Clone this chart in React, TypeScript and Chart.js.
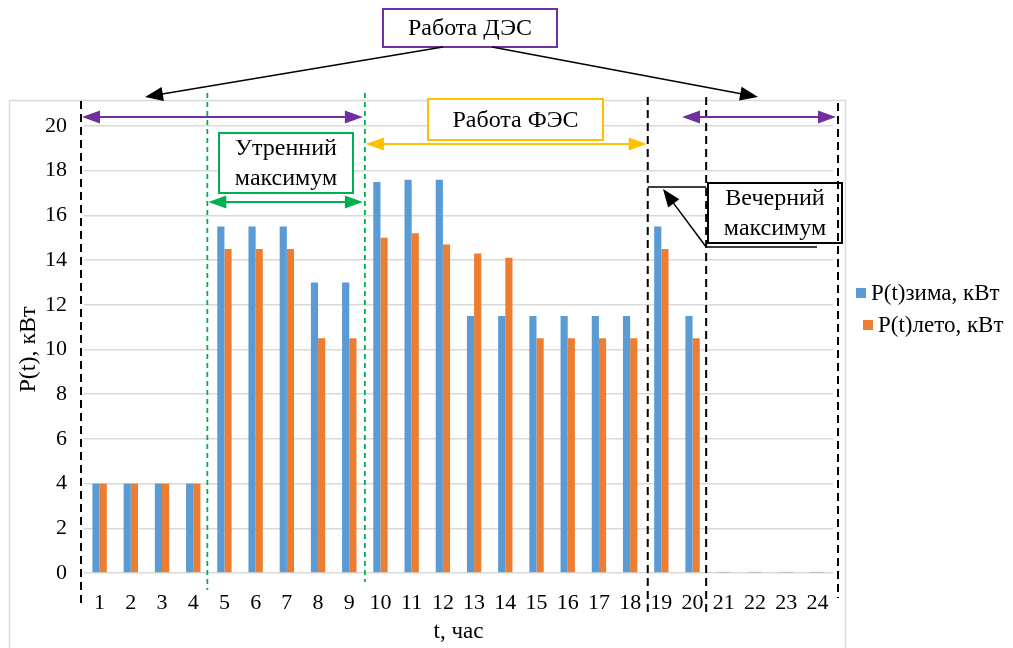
import React, { useEffect, useRef } from "react";
import { Chart, registerables } from "chart.js";

Chart.register(...registerables);

// Hours of the day
const hours = [
  "1", "2", "3", "4", "5", "6", "7", "8", "9", "10", "11", "12",
  "13", "14", "15", "16", "17", "18", "19", "20", "21", "22", "23", "24",
];

// Load, kW — winter day
const winterLoad = [
  4, 4, 4, 4, 15.5, 15.5, 15.5, 13, 13, 17.5, 17.6, 17.6,
  11.5, 11.5, 11.5, 11.5, 11.5, 11.5, 15.5, 11.5, 0.05, 0.05, 0.05, 0.05,
];

// Load, kW — summer day
const summerLoad = [
  4, 4, 4, 4, 14.5, 14.5, 14.5, 10.5, 10.5, 15, 15.2, 14.7,
  14.3, 14.1, 10.5, 10.5, 10.5, 10.5, 14.5, 10.5, 0.05, 0.05, 0.05, 0.05,
];

const seriesNames = ["P(t)зима, кВт", "P(t)лето, кВт"];
const yTicks = [0, 2, 4, 6, 8, 10, 12, 14, 16, 18, 20];

const BLUE = "#5B9BD5";
const ORANGE = "#ED7D31";
const PURPLE = "#7030A0";
const GREEN = "#00B050";
const GOLD = "#FFC000";
const GRID = "#d9d9d9";
const SERIF = "'Liberation Serif', 'Times New Roman', serif";

type Ctx = CanvasRenderingContext2D;

function head(ctx: Ctx, x1: number, y1: number, x2: number, y2: number, len: number, half: number, color: string) {
  const a = Math.atan2(y2 - y1, x2 - x1);
  const bx = x2 - len * Math.cos(a);
  const by = y2 - len * Math.sin(a);
  ctx.fillStyle = color;
  ctx.beginPath();
  ctx.moveTo(x2, y2);
  ctx.lineTo(bx + half * Math.sin(a), by - half * Math.cos(a));
  ctx.lineTo(bx - half * Math.sin(a), by + half * Math.cos(a));
  ctx.closePath();
  ctx.fill();
}

function arrow(ctx: Ctx, x1: number, y1: number, x2: number, y2: number, color: string, width: number, both: boolean, len = 18, half = 6.5) {
  const a = Math.atan2(y2 - y1, x2 - x1);
  const sx = both ? x1 + (len - 2) * Math.cos(a) : x1;
  const sy = both ? y1 + (len - 2) * Math.sin(a) : y1;
  const ex = x2 - (len - 2) * Math.cos(a);
  const ey = y2 - (len - 2) * Math.sin(a);
  ctx.strokeStyle = color;
  ctx.lineWidth = width;
  ctx.setLineDash([]);
  ctx.beginPath();
  ctx.moveTo(sx, sy);
  ctx.lineTo(ex, ey);
  ctx.stroke();
  head(ctx, x1, y1, x2, y2, len, half, color);
  if (both) head(ctx, x2, y2, x1, y1, len, half, color);
}

function vdash(ctx: Ctx, x: number, y1: number, y2: number, color: string, width: number, dash: number[]) {
  ctx.strokeStyle = color;
  ctx.lineWidth = width;
  ctx.setLineDash(dash);
  ctx.beginPath();
  ctx.moveTo(x, y1);
  ctx.lineTo(x, y2);
  ctx.stroke();
  ctx.setLineDash([]);
}

function box(ctx: Ctx, x: number, y: number, w: number, h: number, color: string, lines: string[]) {
  ctx.fillStyle = "#ffffff";
  ctx.fillRect(x, y, w, h);
  ctx.strokeStyle = color;
  ctx.lineWidth = 2;
  ctx.setLineDash([]);
  ctx.strokeRect(x, y, w, h);
  ctx.fillStyle = "#000000";
  ctx.font = `24px ${SERIF}`;
  ctx.textAlign = "center";
  ctx.textBaseline = "middle";
  const step = h / lines.length;
  lines.forEach((t, i) => ctx.fillText(t, x + w / 2, y + step * (i + 0.5) + 1));
}

// Outer frame of the chart object
const framePlugin = {
  id: "frame",
  beforeDraw(chart: any) {
    const { ctx } = chart;
    ctx.save();
    ctx.fillStyle = "#ffffff";
    ctx.fillRect(0, 0, chart.width, chart.height);
    ctx.strokeStyle = GRID;
    ctx.lineWidth = 1.5;
    ctx.strokeRect(9.5, 100.5, 836, 560);
    ctx.restore();
  },
};

// Operating regimes, peak markers and the legend
const overlayPlugin = {
  id: "overlay",
  afterDraw(chart: any) {
    const { ctx } = chart;
    const xs = chart.scales.x;
    const step = xs.getPixelForValue(1) - xs.getPixelForValue(0);
    // boundary after the n-th hour
    const edge = (n: number) => xs.getPixelForValue(n - 1) + step / 2;
    const xL = xs.left - 3;
    const x45 = edge(4) - 1.5;
    const x910 = edge(9);
    const x1819 = edge(18) + 2;
    const x2021 = edge(20) - 2;
    const xR = xs.right + 5;

    ctx.save();

    // callout boxes
    box(ctx, 383, 9, 174, 38, PURPLE, ["Работа ДЭС"]);
    box(ctx, 428, 99, 175, 41, GOLD, ["Работа ФЭС"]);
    box(ctx, 219, 133, 134, 60, GREEN, ["Утренний", "максимум"]);
    box(ctx, 708, 183, 134, 60, "#000000", ["Вечерний", "максимум"]);

    // period boundaries
    vdash(ctx, xL, 101, 606, "#000000", 2, [8, 5]);
    vdash(ctx, x45, 93, 590, GREEN, 1.8, [5, 4]);
    vdash(ctx, x910, 93, 582, GREEN, 1.8, [5, 4]);
    vdash(ctx, x1819, 97, 612, "#000000", 2, [8, 5]);
    vdash(ctx, x2021, 97, 612, "#000000", 2, [8, 5]);
    vdash(ctx, xR, 103, 598, "#000000", 2, [8, 5]);

    // diesel plant periods
    arrow(ctx, xL + 1, 117, x910 - 2, 117, PURPLE, 2, true);
    arrow(ctx, 682, 117, xR - 2, 117, PURPLE, 2, true);
    // solar plant period
    arrow(ctx, x910 + 1, 144, x1819 - 1, 144, GOLD, 2, true);
    // morning peak
    arrow(ctx, x45 + 1, 202, x910 - 2, 202, GREEN, 2, true);

    // pointers from the diesel label
    arrow(ctx, 443, 47, 145, 97, "#000000", 1.5, false, 18, 7);
    arrow(ctx, 492, 47, 758, 97, "#000000", 1.5, false, 18, 7);

    // evening peak bracket and pointer
    ctx.strokeStyle = "#000000";
    ctx.lineWidth = 1.5;
    ctx.beginPath();
    ctx.moveTo(x1819, 187);
    ctx.lineTo(x2021, 187);
    ctx.moveTo(x2021, 247);
    ctx.lineTo(817, 247);
    ctx.stroke();
    arrow(ctx, x2021, 247, 663, 189, "#000000", 1.5, false, 18, 7);

    // legend
    ctx.font = `23px ${SERIF}`;
    ctx.textAlign = "left";
    ctx.textBaseline = "middle";
    const items = [
      { x: 856, y: 293 },
      { x: 863, y: 325 },
    ];
    chart.data.datasets.forEach((ds: any, i: number) => {
      const p = items[i];
      ctx.fillStyle = ds.backgroundColor;
      ctx.fillRect(p.x, p.y - 5, 10, 10);
      ctx.fillStyle = "#000000";
      ctx.fillText(ds.label, p.x + 15, p.y + 1);
    });

    ctx.restore();
  },
};

export default function App() {
  const ref = useRef<HTMLCanvasElement | null>(null);

  useEffect(() => {
    if (!ref.current) return;
    const chart = new Chart(ref.current, {
      type: "bar",
      data: {
        labels: hours,
        datasets: [
          { label: seriesNames[0], data: winterLoad, backgroundColor: BLUE },
          { label: seriesNames[1], data: summerLoad, backgroundColor: ORANGE },
        ],
      },
      options: {
        responsive: false,
        animation: false,
        layout: { padding: { left: 0, top: 126, right: 180, bottom: 0 } },
        datasets: {
          bar: { categoryPercentage: 0.46, barPercentage: 1.0 },
        },
        plugins: {
          legend: { display: false },
          tooltip: { enabled: false },
        },
        scales: {
          x: {
            grid: { display: false },
            border: { display: false },
            ticks: {
              color: "#000000",
              font: { family: SERIF, size: 22 },
              padding: 9,
              maxRotation: 0,
              autoSkip: false,
            },
            title: {
              display: true,
              text: "t, час",
              color: "#000000",
              font: { family: SERIF, size: 23 },
              padding: { top: 0, bottom: 2 },
            },
            afterFit(scale: any) {
              scale.height = 75;
            },
          },
          y: {
            min: 0,
            max: 20,
            afterBuildTicks(scale: any) {
              scale.ticks = yTicks.map((v) => ({ value: v }));
            },
            grid: { color: GRID, lineWidth: 1.5, drawTicks: false },
            border: { display: false },
            ticks: {
              color: "#000000",
              font: { family: SERIF, size: 22 },
              padding: 17,
            },
            title: {
              display: true,
              text: "P(t), кВт",
              color: "#000000",
              font: { family: SERIF, size: 24 },
              padding: { top: 14, bottom: 0 },
            },
            afterFit(scale: any) {
              scale.width = 84;
            },
          },
        },
      },
      plugins: [framePlugin, overlayPlugin],
    });
    return () => chart.destroy();
  }, []);

  return (
    <div style={{ position: "absolute", left: 0, top: 0, width: 1013, height: 648 }}>
      <canvas ref={ref} width={1013} height={648} style={{ display: "block" }} />
    </div>
  );
}
